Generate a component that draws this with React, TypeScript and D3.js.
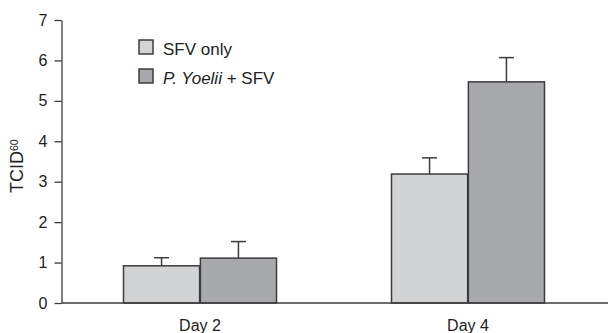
import React, { useEffect, useRef } from "react";
import * as d3 from "d3";

const days = ["Day 2", "Day 4"];
const seriesNames = ["SFV only", "P. Yoelii + SFV"];
const sfvOnly = [0.92, 3.19];
const sfvOnlyErr = [0.2, 0.4];
const pYoelii = [1.11, 5.47];
const pYoeliiErr = [0.41, 0.6];
const yTicks = [0, 1, 2, 3, 4, 5, 6, 7];

const colors = ["#d1d3d4", "#a7a9ac"];
const ink = "#3c3c3c";

export default function App() {
  const ref = useRef<SVGSVGElement>(null);

  useEffect(() => {
    const svg = d3.select(ref.current);
    svg.selectAll("*").remove();

    const width = 608, height = 333;
    const x0 = 61.5, y0 = 303;
    const font = "'Liberation Sans', Arial, sans-serif";

    const y = d3.scaleLinear().domain([0, 7]).range([y0, 20]);
    const x = d3.scalePoint().domain(days).range([66, 602]).padding(0.5);
    const xs = d3.scaleBand().domain(seriesNames).range([-76.5, 76.5]).paddingInner(0.01);

    const rows = days.map((d, i) => ({
      day: d,
      vals: [
        { s: seriesNames[0], v: sfvOnly[i], e: sfvOnlyErr[i] },
        { s: seriesNames[1], v: pYoelii[i], e: pYoeliiErr[i] },
      ],
    }));

    // y axis
    const ya = svg.append("g")
      .attr("transform", `translate(${x0},0)`)
      .call(d3.axisLeft(y).tickValues(yTicks).tickFormat(d3.format("d")).tickSize(7).tickPadding(7).tickSizeOuter(0));
    ya.select(".domain").attr("stroke", ink).attr("stroke-width", 1.3);
    ya.selectAll(".tick line").attr("stroke", ink).attr("stroke-width", 1.3);
    ya.selectAll(".tick text")
      .attr("font-family", font)
      .attr("font-size", 16)
      .attr("fill", "#222");

    // bars
    const groups = svg.append("g").selectAll("g")
      .data(rows)
      .join("g")
      .attr("transform", d => `translate(${x(d.day)},0)`);

    groups.selectAll("rect")
      .data(d => d.vals)
      .join("rect")
      .attr("x", d => xs(d.s)!)
      .attr("width", xs.bandwidth())
      .attr("y", d => y(d.v))
      .attr("height", d => y(0) - y(d.v))
      .attr("fill", (d, i) => colors[i])
      .attr("stroke", ink)
      .attr("stroke-width", 1.5);

    // error bars
    const err = groups.selectAll("g.err")
      .data(d => d.vals)
      .join("g")
      .attr("class", "err")
      .attr("stroke", ink)
      .attr("stroke-width", 1.5);
    err.append("line")
      .attr("x1", d => xs(d.s)! + xs.bandwidth() / 2)
      .attr("x2", d => xs(d.s)! + xs.bandwidth() / 2)
      .attr("y1", d => y(d.v))
      .attr("y2", d => y(d.v + d.e));
    err.append("line")
      .attr("x1", d => xs(d.s)! + xs.bandwidth() / 2 - 7.5)
      .attr("x2", d => xs(d.s)! + xs.bandwidth() / 2 + 7.5)
      .attr("y1", d => y(d.v + d.e))
      .attr("y2", d => y(d.v + d.e));

    // x axis line
    svg.append("line")
      .attr("x1", x0)
      .attr("x2", width)
      .attr("y1", y0)
      .attr("y2", y0)
      .attr("stroke", ink)
      .attr("stroke-width", 1.3);

    svg.append("g").selectAll("text")
      .data(days)
      .join("text")
      .attr("x", d => x(d)!)
      .attr("y", 331)
      .attr("text-anchor", "middle")
      .attr("font-family", font)
      .attr("font-size", 16)
      .attr("fill", "#222")
      .text(d => d);

    // y label
    const yl = svg.append("text")
      .attr("transform", "translate(23,193) rotate(-90)")
      .attr("font-family", font)
      .attr("font-size", 18)
      .attr("fill", "#222");
    yl.append("tspan").text("TCID");
    yl.append("tspan").attr("font-size", 10.5).attr("dy", -5).text("60");

    // legend
    const leg = svg.append("g").selectAll("g")
      .data(seriesNames)
      .join("g")
      .attr("transform", (d, i) => `translate(139,${40 + i * 29})`);
    leg.append("rect")
      .attr("width", 14)
      .attr("height", 14)
      .attr("fill", (d, i) => colors[i])
      .attr("stroke", ink)
      .attr("stroke-width", 1.5);
    const lt = leg.append("text")
      .attr("x", 24)
      .attr("y", 15)
      .attr("font-family", font)
      .attr("font-size", 17)
      .attr("fill", "#222");
    lt.filter((d, i) => i === 0).text(d => d);
    const second = lt.filter((d, i) => i === 1);
    second.append("tspan").attr("font-style", "italic").text("P. Yoelii");
    second.append("tspan").text(" + SFV");

    svg.attr("width", width).attr("height", height);
  }, []);

  return (
    <svg
      ref={ref}
      width={608}
      height={333}
      style={{ position: "absolute", left: 0, top: 0, background: "#fff" }}
    />
  );
}
